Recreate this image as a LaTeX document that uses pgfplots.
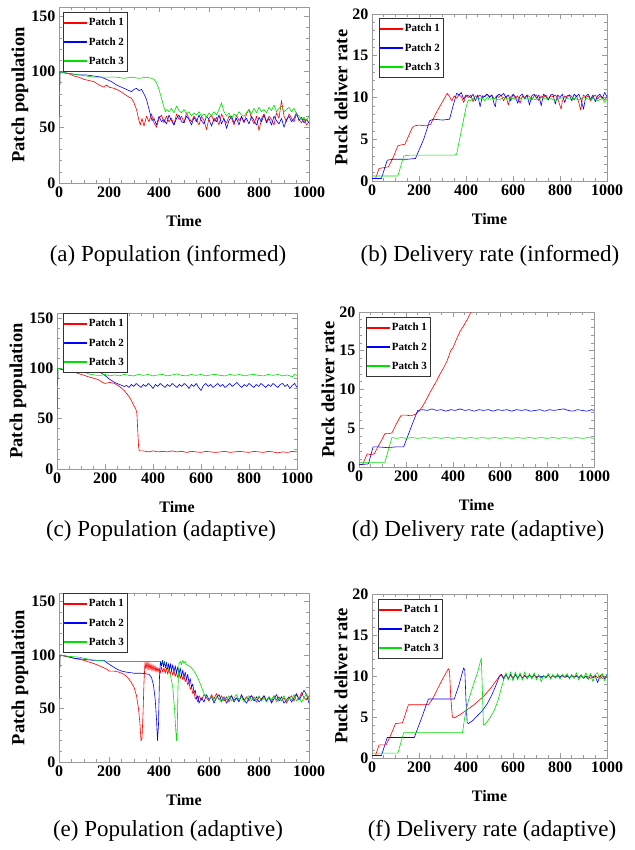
\documentclass[border=0pt]{standalone}
\usepackage{fontspec}
\setmainfont{Liberation Serif}
\usepackage{pgfplots}
\pgfplotsset{compat=1.18}
\definecolor{pred}{HTML}{FF0000}
\definecolor{pblue}{HTML}{0000FF}
\definecolor{pgreen}{HTML}{00E000}
\definecolor{framegray}{HTML}{9A9A9A}

\pgfplotsset{
  % legend samples as thin filled bars (render their colour reliably)
  legend image code/.code={\fill[#1] (0pt,-0.55pt) rectangle (22pt,0.55pt);},
  panel/.style={
    scale only axis,
    anchor=north west,
    xmin=0, xmax=1000,
    xtick={0,200,...,1000},
    minor x tick num=3,
    minor y tick num=4,
    tick align=inside,
    axis line style={framegray, line width=0.8pt},
    major tick length=5pt, minor tick length=3pt,
    tick style={framegray, line width=0.6pt},
    ticklabel style={font=\fontsize{16}{18}\selectfont\bfseries},
    /pgf/number format/assume math mode=true,
    /pgf/number format/1000 sep={},
    xlabel={Time},
    every axis x label/.style={at={(axis description cs:0.5,0)}, anchor=center, yshift=-38pt,
      font=\fontsize{16}{18}\selectfont\bfseries},
    every axis y label/.style={at={(axis description cs:0,0.5)}, anchor=center, rotate=90, yshift=39pt,
      font=\fontsize{18.5}{20}\selectfont\bfseries},
    legend cell align=left,
    legend style={font=\fontsize{11}{13}\selectfont\bfseries, draw=black!80, line width=0.5pt,
      at={(0,1)}, anchor=north west, row sep=6pt, inner xsep=1pt, inner ysep=4pt},
    every axis plot/.append style={line width=0.6pt, line join=round},
  },
  pop/.style={ymin=0, ymax=158, ytick={0,50,100,150}, ylabel={Patch population}},
  rate/.style={ymin=0, ymax=20, ytick={0,5,10,15,20}, ylabel={Puck deliver rate},
    every axis y label/.append style={yshift=-8pt}},
}

\begin{document}
\begin{tikzpicture}

% (a) population, informed
\begin{axis}[panel, pop, at={(59pt,-7pt)}, width=250pt, height=176pt,
  legend style={xshift=4pt, yshift=-5pt}]
\addplot[pred] coordinates {(0,60) (4,100) (20,99) (40,98) (60,96) (80,95) (100,93) (120,92) (140,91) (160,88) (180,86) (190,88) (200,86) (220,85) (240,83) (260,80) (280,77) (290,76) (300,72) (310,66) (318,58) (325,52) (332,58) (340,51) (350,60) (360,55) (370,62) (380,54) (390,50) (400,58) (410,61) (420,54) (430,60) (440,55) (450,58) (460,52) (470,62) (480,57) (490,60) (500,54) (510,63) (520,58) (530,55) (540,60) (550,57) (560,52) (570,60) (580,56) (590,48) (600,58) (610,61) (620,55) (630,59) (640,52) (650,62) (660,57) (670,54) (680,60) (690,58) (700,52) (710,61) (720,56) (730,59) (740,54) (750,62) (760,66) (770,58) (780,53) (790,60) (800,47) (810,58) (820,62) (830,55) (840,60) (850,57) (860,52) (870,63) (880,58) (890,74) (900,60) (910,55) (920,62) (930,58) (940,55) (950,62) (960,57) (970,54) (980,58) (990,52) (1000,55)};
\addplot[pblue] coordinates {(0,60) (4,100) (20,99) (50,98) (80,97) (110,97) (140,96) (170,95) (190,93) (210,91) (230,88) (250,86) (270,84) (290,82) (300,84) (310,85) (320,83) (330,84) (340,80) (350,75) (358,68) (365,62) (372,56) (380,58) (390,52) (400,60) (410,55) (420,57) (430,53) (440,61) (450,56) (460,52) (470,58) (480,61) (490,55) (500,54) (510,60) (520,57) (530,52) (540,59) (550,55) (560,61) (570,56) (580,53) (590,60) (600,57) (610,51) (620,58) (630,55) (640,61) (650,53) (660,58) (670,49) (680,56) (690,60) (700,54) (710,58) (720,52) (730,60) (740,55) (750,58) (760,53) (770,60) (780,56) (790,52) (800,59) (810,55) (820,61) (830,54) (840,58) (850,52) (860,60) (870,56) (880,53) (890,58) (900,50) (910,57) (920,60) (930,55) (940,58) (950,63) (960,56) (970,59) (980,54) (990,57) (1000,54)};
\addplot[pgreen] coordinates {(0,60) (4,100) (20,99) (50,98) (80,97) (110,96) (140,95) (170,95) (200,95) (230,95) (260,94) (290,95) (320,94) (350,95) (370,94) (380,93) (390,90) (400,84) (410,76) (420,68) (425,64) (432,66) (440,64) (450,67) (460,63) (470,69) (480,65) (490,63) (500,66) (510,62) (520,64) (530,60) (540,63) (550,61) (560,64) (570,60) (580,62) (590,59) (600,63) (610,60) (620,64) (630,61) (640,66) (650,72) (660,64) (670,60) (680,63) (690,58) (700,62) (710,60) (720,64) (730,61) (740,60) (750,63) (760,66) (770,62) (780,67) (790,63) (800,68) (810,64) (820,66) (830,63) (840,68) (850,65) (860,70) (870,64) (880,67) (890,69) (900,64) (910,66) (920,68) (930,64) (940,67) (950,62) (960,60) (970,57) (980,59) (990,56) (1000,60)};
\legend{Patch 1, Patch 2, Patch 3}
\end{axis}

% (b) delivery rate, informed
\begin{axis}[panel, rate, at={(372pt,-14pt)}, width=235pt, height=167pt,
  legend style={xshift=7pt, yshift=-4pt}]
\addplot[pred] coordinates {(0,0.3) (15,0.3) (30,1.5) (50,1.6) (70,1.7) (90,2.8) (110,4.2) (120,4.3) (140,4.4) (170,6.3) (180,6.6) (200,6.7) (230,6.6) (250,6.8) (270,8.0) (290,9.0) (310,10.0) (320,10.5) (330,10.1) (340,9.6) (350,10.2) (360,9.9) (370,10.3) (380,10.1) (390,9.4) (400,10.2) (410,10.0) (420,10.3) (430,9.5) (440,10.2) (450,10.1) (460,10.3) (470,9.9) (480,10.2) (490,10.4) (500,10.1) (510,10.3) (520,9.8) (530,10.2) (540,10.0) (550,10.3) (560,9.6) (570,10.2) (580,9.1) (590,10.1) (600,10.3) (610,9.9) (620,10.2) (630,9.3) (640,10.2) (650,10.0) (660,10.3) (670,10.1) (680,9.7) (690,10.2) (700,10.3) (710,9.6) (720,10.2) (730,10.0) (740,10.3) (750,9.8) (760,10.2) (770,10.1) (780,10.3) (790,9.9) (800,9.0) (805,8.6) (810,9.6) (820,10.2) (830,10.0) (840,10.3) (850,10.1) (860,9.7) (870,10.2) (880,9.4) (888,8.5) (895,9.8) (900,10.3) (910,10.0) (920,10.2) (930,9.6) (940,10.1) (950,10.3) (960,9.8) (970,10.2) (980,10.0) (990,9.7) (1000,10.1)};
\addplot[pblue] coordinates {(0,0.3) (40,0.3) (65,2.5) (90,2.6) (120,2.6) (150,2.6) (185,2.7) (200,3.7) (220,5.0) (245,7.2) (260,7.4) (300,7.3) (330,7.4) (345,9.0) (360,10.5) (370,10.3) (380,10.6) (390,9.8) (400,10.3) (410,10.2) (420,10.0) (430,10.4) (440,9.6) (450,10.3) (460,8.9) (470,10.2) (480,10.1) (490,10.4) (500,10.0) (510,10.3) (520,9.2) (525,8.9) (530,10.1) (540,10.4) (550,10.2) (560,10.5) (570,10.0) (580,10.3) (590,9.6) (600,10.4) (610,10.1) (620,9.3) (630,10.2) (640,10.4) (650,9.8) (660,10.3) (670,9.1) (680,10.2) (690,10.4) (700,9.9) (710,10.3) (720,9.0) (730,10.4) (740,10.1) (750,9.7) (760,10.3) (770,10.4) (780,9.2) (790,10.3) (800,10.0) (810,10.4) (820,9.4) (830,10.2) (840,10.3) (850,9.6) (860,10.4) (870,10.1) (880,10.4) (890,9.7) (900,8.6) (910,10.2) (920,10.4) (930,9.8) (940,10.3) (950,9.5) (960,10.2) (970,10.4) (980,9.9) (990,10.6) (1000,10.1)};
\addplot[pgreen] coordinates {(0,0.6) (110,0.6) (135,3.0) (160,3.1) (200,3.1) (250,3.1) (300,3.1) (350,3.1) (360,3.2) (380,6.0) (400,8.8) (410,9.7) (420,9.6) (430,9.9) (440,9.7) (450,10.0) (460,9.8) (470,9.9) (480,9.6) (490,10.0) (500,9.8) (520,9.9) (540,9.7) (560,10.0) (580,9.8) (600,9.9) (620,9.7) (640,10.0) (660,9.8) (680,9.9) (700,9.7) (720,10.0) (740,9.8) (760,9.9) (780,9.6) (800,9.9) (820,10.0) (840,9.8) (860,9.9) (880,9.7) (900,10.0) (920,9.8) (940,9.9) (960,9.6) (980,9.9) (990,9.4) (1000,9.8)};
\legend{Patch 1, Patch 2, Patch 3}
\end{axis}

% (c) population, adaptive
\begin{axis}[panel, pop, ymax=155, at={(57pt,-313pt)}, width=240pt, height=156pt,
  legend style={xshift=6pt, yshift=0pt}]
\addplot[pred] coordinates {(0,60) (4,100) (20,99) (60,97) (100,94) (140,91) (170,89) (190,86) (200,85) (220,86) (240,85) (260,82) (280,78) (300,72) (310,68) (320,63) (328,60) (333,55) (336,40) (340,22) (343,18) (360,18) (380,17) (400,18) (420,17) (440,17.5) (460,17) (480,18) (500,17) (520,17.5) (540,16.5) (560,17.5) (580,17) (600,16.5) (620,17.5) (640,17) (660,16.5) (680,17) (700,17.5) (720,16.5) (740,17) (760,17.5) (780,17) (800,16.5) (820,17.5) (840,17) (860,16.5) (880,17.5) (900,17) (920,16) (940,17) (960,16.5) (980,17.5) (1000,17)};
\addplot[pblue] coordinates {(0,60) (4,100) (20,99) (60,98) (100,97) (140,96) (180,96) (200,93) (220,89) (240,86) (260,84) (280,82) (290,83) (300,81) (310,84) (320,82) (330,85) (340,83) (350,81) (360,84) (370,82) (380,85) (390,83) (400,80) (410,84) (420,82) (430,85) (440,83) (450,81) (460,84) (470,82) (480,85) (490,83) (500,81) (510,84) (520,82) (530,85) (540,83) (550,80) (560,84) (570,82) (580,85) (590,81) (600,78) (610,83) (620,85) (630,82) (640,84) (650,81) (660,83) (670,85) (680,82) (690,84) (700,81) (710,83) (720,85) (730,82) (740,84) (750,86) (760,83) (770,81) (780,84) (790,82) (800,85) (810,83) (820,81) (830,84) (840,82) (850,85) (860,83) (870,81) (880,84) (890,82) (900,85) (910,83) (920,81) (930,84) (940,85) (950,82) (960,84) (970,80) (980,83) (990,85) (1000,81)};
\addplot[pgreen] coordinates {(0,60) (4,100) (30,99) (60,98) (100,97) (140,94) (170,93) (180,93) (200,94) (220,92.5) (240,93.5) (260,92.5) (280,94) (300,93) (320,92.5) (340,94) (360,93) (380,94) (400,92.5) (420,93.5) (440,94) (460,92.5) (480,93.5) (500,94.5) (520,93) (540,92.5) (560,94) (580,93) (600,94) (620,92.5) (640,93.5) (660,94) (680,93) (700,92.5) (720,94) (740,93) (760,94) (780,92.5) (800,93.5) (820,94) (840,93) (860,92.5) (880,94) (900,93) (920,94) (940,92.5) (960,93.5) (980,91.5) (990,94) (1000,93)};
\legend{Patch 1, Patch 2, Patch 3}
\end{axis}

% (d) delivery rate, adaptive
\begin{axis}[panel, rate, at={(359pt,-312pt)}, width=235pt, height=155pt,
  legend style={xshift=7pt, yshift=-5pt}]
\addplot[pred] coordinates {(0,0.3) (15,0.3) (25,1.0) (35,1.7) (50,1.6) (65,1.7) (80,2.6) (95,3.4) (110,4.3) (125,4.3) (140,4.4) (155,5.3) (170,6.2) (180,6.7) (200,6.7) (220,6.6) (240,6.8) (255,7.2) (270,7.8) (285,8.6) (300,9.5) (315,10.3) (330,11.1) (345,12.0) (360,12.8) (375,13.7) (390,15.0) (400,15.4) (415,16.5) (430,17.5) (445,18.2) (460,19.0) (475,19.9) (490,20.8)};
\addplot[pblue] coordinates {(0,0.3) (40,0.4) (60,2.6) (80,2.6) (120,2.5) (160,2.6) (190,2.6) (210,4.2) (230,5.8) (250,7.3) (270,7.4) (290,7.3) (310,7.5) (330,7.3) (350,7.4) (370,7.2) (390,7.4) (410,7.3) (430,7.5) (450,7.3) (470,7.4) (490,7.2) (510,7.4) (530,7.3) (550,7.4) (570,7.2) (590,7.4) (610,7.3) (630,7.4) (650,7.2) (670,7.4) (690,7.3) (710,7.4) (730,7.2) (750,7.3) (770,7.4) (790,7.2) (810,7.4) (830,7.3) (850,7.4) (870,7.5) (890,7.3) (910,7.2) (930,7.4) (950,7.3) (970,7.2) (990,7.4) (1000,7.3)};
\addplot[pgreen] coordinates {(0,0.6) (110,0.6) (140,3.8) (160,3.7) (180,3.8) (200,3.7) (225,3.8) (250,3.7) (275,3.8) (300,3.7) (325,3.8) (350,3.7) (375,3.8) (400,3.7) (425,3.8) (450,3.7) (475,3.8) (500,3.7) (525,3.8) (550,3.7) (575,3.8) (600,3.7) (625,3.8) (650,3.7) (675,3.8) (700,3.7) (725,3.8) (750,3.7) (775,3.8) (800,3.7) (825,3.8) (850,3.7) (875,3.8) (900,3.7) (925,3.8) (950,3.7) (975,3.8) (1000,3.7)};
\legend{Patch 1, Patch 2, Patch 3}
\end{axis}

% (e) population, adaptive
\begin{axis}[panel, pop, at={(59pt,-593pt)}, width=250pt, height=169pt,
  legend style={xshift=4pt, yshift=0pt}]
\addplot[pred] coordinates {(0,60) (4,100) (20,99) (60,97) (100,95) (140,92) (170,89) (190,87) (200,85) (220,85) (240,84) (260,82) (275,79) (290,74) (300,70) (310,62) (318,50) (324,35) (328,20) (332,22) (336,45) (340,75) (344,93) (348,87) (352,94) (356,86) (360,93) (364,86) (368,92) (372,85) (376,91) (380,85) (384,90) (388,84) (392,89) (396,84) (400,88) (405,83) (410,89) (415,84) (420,88) (425,83) (430,88) (435,82) (440,87) (445,82) (450,86) (455,81) (460,85) (465,80) (470,84) (475,79) (480,83) (485,78) (490,82) (495,77) (500,80) (505,75) (510,78) (515,72) (520,75) (525,68) (530,70) (535,64) (540,66) (545,59) (550,60) (555,56) (560,62) (570,58) (580,63) (590,60) (600,57) (610,63) (620,59) (630,64) (640,58) (650,62) (660,57) (670,61) (680,56) (690,62) (700,58) (710,60) (720,56) (730,62) (740,58) (750,61) (760,57) (770,62) (780,59) (790,56) (800,61) (810,58) (820,62) (830,57) (840,60) (850,56) (860,62) (870,58) (880,61) (890,57) (900,60) (910,55) (920,59) (930,62) (940,57) (950,63) (960,59) (970,65) (980,60) (990,58) (1000,62)};
\addplot[pblue] coordinates {(0,60) (4,100) (30,99) (60,97) (100,96) (140,95) (180,95) (190,93) (210,90) (230,87) (250,85) (270,84) (300,83) (330,83) (360,82) (370,79) (378,72) (385,58) (390,40) (394,20) (398,35) (402,80) (406,94) (410,90) (414,95) (418,89) (422,94) (426,88) (430,93) (434,87) (438,92) (442,86) (446,92) (450,85) (455,91) (460,84) (465,90) (470,83) (475,89) (480,82) (485,88) (490,80) (495,86) (500,79) (505,84) (510,77) (515,82) (520,74) (525,78) (530,70) (535,73) (540,65) (545,67) (550,59) (555,62) (560,55) (570,60) (580,56) (590,63) (600,58) (610,61) (620,55) (630,60) (640,63) (650,57) (660,61) (670,55) (680,59) (690,62) (700,56) (710,60) (720,57) (730,63) (740,58) (750,55) (760,60) (770,62) (780,57) (790,61) (800,56) (810,59) (820,62) (830,57) (840,61) (850,55) (860,59) (870,63) (880,57) (890,61) (900,55) (910,58) (920,61) (930,56) (940,60) (950,64) (960,58) (970,62) (980,67) (990,63) (1000,55)};
\addplot[pgreen] coordinates {(0,60) (4,100) (30,99) (80,98) (120,96) (150,95) (200,94) (250,94) (300,94) (350,94) (400,94) (420,93) (435,89) (445,82) (455,70) (462,50) (467,30) (470,20) (473,30) (476,70) (480,92) (485,94) (490,91) (495,95) (500,92) (505,94) (510,91) (520,90) (530,88) (540,85) (550,81) (560,76) (570,70) (580,64) (590,60) (600,58) (610,62) (620,57) (630,61) (640,59) (650,56) (660,61) (670,58) (680,62) (690,57) (700,60) (710,63) (720,58) (730,61) (740,56) (750,60) (760,62) (770,57) (780,61) (790,58) (800,62) (810,57) (820,60) (830,56) (840,61) (850,58) (860,62) (870,56) (880,60) (890,57) (900,62) (910,56) (920,60) (930,58) (940,63) (950,57) (960,61) (970,56) (980,60) (990,64) (1000,58)};
\legend{Patch 1, Patch 2, Patch 3}
\end{axis}

% (f) delivery rate, adaptive
\begin{axis}[panel, rate, at={(372pt,-594pt)}, width=235pt, height=164pt,
  legend style={xshift=6pt, yshift=-5pt}]
\addplot[pred] coordinates {(0,0.3) (15,0.3) (30,1.6) (60,1.6) (80,2.8) (100,4.2) (130,4.3) (155,6.5) (240,6.5) (260,7.3) (280,8.5) (300,9.6) (325,10.9) (330,10.5) (335,7.5) (342,5.0) (350,4.9) (370,5.2) (390,5.6) (410,6.0) (430,6.4) (450,6.9) (470,7.4) (490,8.0) (510,8.7) (530,9.5) (545,10.1) (550,10.2) (560,9.8) (570,10.2) (580,9.7) (590,10.1) (600,9.8) (610,10.1) (620,9.8) (630,10.1) (640,9.8) (650,10.0) (660,9.9) (670,10.0) (680,9.9) (690,10.1) (700,9.9) (710,10.0) (720,9.8) (730,10.0) (740,9.9) (750,10.1) (760,9.8) (770,10.0) (780,9.9) (790,10.1) (800,9.8) (810,10.0) (820,9.9) (830,10.1) (840,9.8) (850,10.0) (860,9.9) (870,10.1) (880,9.8) (890,10.0) (900,9.8) (910,10.0) (920,9.9) (930,9.7) (940,9.9) (950,10.1) (960,9.8) (970,10.0) (980,9.7) (990,9.9) (1000,9.8)};
\addplot[pblue] coordinates {(0,0.3) (40,0.3) (65,2.5) (180,2.5) (210,4.8) (240,7.2) (350,7.2) (370,8.9) (390,11.0) (395,10.7) (400,7.0) (405,4.3) (410,4.2) (430,4.6) (450,5.2) (470,5.8) (490,6.6) (510,7.7) (525,8.7) (540,9.8) (550,10.2) (560,9.6) (570,10.2) (580,9.6) (590,10.2) (600,9.6) (610,10.2) (620,9.7) (630,10.2) (640,9.7) (650,10.1) (660,9.7) (670,10.1) (680,9.8) (690,10.1) (700,9.8) (710,10.0) (720,9.9) (730,10.0) (740,9.8) (750,10.1) (760,9.8) (770,10.1) (780,9.8) (790,10.0) (800,9.9) (810,10.1) (820,9.8) (830,10.0) (840,9.8) (850,10.1) (860,9.8) (870,10.0) (880,9.8) (890,10.1) (900,9.7) (910,10.0) (920,9.6) (930,10.1) (940,9.8) (950,10.0) (960,9.2) (970,10.0) (980,10.2) (990,9.6) (1000,10.2)};
\addplot[pgreen] coordinates {(0,0.6) (110,0.6) (135,3.1) (385,3.1) (395,5.0) (410,7.0) (430,8.8) (450,10.5) (465,12.2) (470,8.0) (474,4.0) (480,4.1) (500,4.8) (520,5.8) (535,6.9) (550,8.5) (560,9.5) (570,10.4) (580,9.5) (590,10.5) (600,9.4) (610,10.5) (620,9.5) (630,10.4) (640,9.5) (650,10.5) (660,9.6) (670,10.3) (680,9.6) (690,10.4) (700,9.5) (710,10.2) (720,9.3) (730,10.1) (740,9.7) (750,10.3) (760,9.6) (770,10.2) (780,9.7) (790,10.3) (800,9.6) (810,10.2) (820,9.8) (830,10.3) (840,9.6) (850,10.2) (860,9.7) (870,10.4) (880,9.5) (890,10.2) (900,9.7) (910,10.4) (920,9.6) (930,10.3) (940,9.3) (950,10.2) (960,10.4) (970,9.6) (980,10.3) (990,9.4) (1000,10.2)};
\legend{Patch 1, Patch 2, Patch 3}
\end{axis}

% sub-captions
\begin{scope}[every node/.style={font=\fontsize{23}{26}\selectfont, anchor=center}]
\node at (168pt,-256pt) {(a) Population (informed)};
\node at (490pt,-256pt) {(b) Delivery rate (informed)};
\node at (161pt,-531pt) {(c) Population (adaptive)};
\node at (478pt,-531pt) {(d) Delivery rate (adaptive)};
\node at (168pt,-831pt) {(e) Population (adaptive)};
\node at (492pt,-831pt) {(f) Delivery rate (adaptive)};
\end{scope}

\pgfresetboundingbox
\useasboundingbox (0,0) rectangle (634pt,-850pt);
\end{tikzpicture}
\end{document}
